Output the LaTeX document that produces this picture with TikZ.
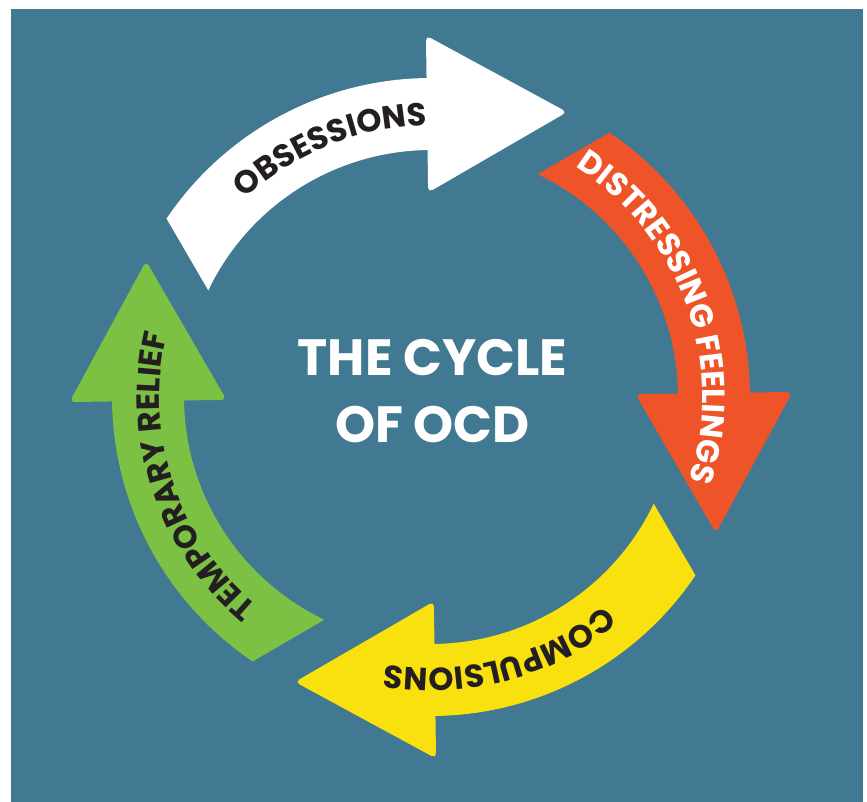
\documentclass[tikz,border=0pt]{standalone}
\usepackage{fontspec}
\setmainfont{Poppins}
\usetikzlibrary{decorations.text}

\definecolor{ocdblue}{HTML}{417993}
\definecolor{ocdred}{HTML}{EF5328}
\definecolor{ocdyellow}{HTML}{F9E00F}
\definecolor{ocdgreen}{HTML}{7CC143}
\definecolor{ocdink}{HTML}{231F20}

\newcommand{\arcfont}{\bfseries\fontsize{32}{32}\selectfont}
\newcommand{\titlefont}{\bfseries\fontsize{51}{67}\selectfont}

\tikzset{
  tipshape/.style={rounded corners=5pt},
  curved label/.style 2 args={decorate,
    decoration={text along path, text={|\arcfont|#2}, text align=center, text color=#1}}
}

\begin{document}
\begin{tikzpicture}[x=1pt, y=1pt]
      \useasboundingbox (-431,-405) rectangle (436,397);
      \fill [ocdblue] (-420,-405) rectangle (432,388);
      % top: obsessions
      \begin{scope}[rotate=0.8]
        \fill [white] (88:319) arc [start angle=88, end angle=145.2, radius=319]
          -- (153.6:247) arc [start angle=153.6, end angle=88, radius=247] -- cycle;
        \fill [white, tipshape] (0,204.5) -- (0,361.5) -- (140,283) -- cycle;
        \path [curved label={ocdink}{OBSESSIONS}]
          (161.2:271.5) arc [start angle=161.2, end angle=61.2, radius=271.5];
      \end{scope}
      % right: distressing feelings
      \begin{scope}[rotate=-89.2]
        \fill [ocdred] (88:319) arc [start angle=88, end angle=145.2, radius=319]
          -- (153.6:247) arc [start angle=153.6, end angle=88, radius=247] -- cycle;
        \fill [ocdred, tipshape] (0,204.5) -- (0,361.5) -- (140,283) -- cycle;
        \path [curved label={white}{DISTRESSING FEELINGS}]
          (169.2:271.5) arc [start angle=169.2, end angle=49.2, radius=271.5];
      \end{scope}
      % bottom: compulsions
      \begin{scope}[rotate=-179.2]
        \fill [ocdyellow] (88:319) arc [start angle=88, end angle=145.2, radius=319]
          -- (153.6:247) arc [start angle=153.6, end angle=88, radius=247] -- cycle;
        \fill [ocdyellow, tipshape] (0,204.5) -- (0,361.5) -- (140,283) -- cycle;
        \path [curved label={ocdink}{COMPULSIONS}]
          (154.2:271.5) arc [start angle=154.2, end angle=54.2, radius=271.5];
      \end{scope}
      % left: temporary relief
      \begin{scope}[rotate=90.8]
        \fill [ocdgreen] (88:319) arc [start angle=88, end angle=145.2, radius=319]
          -- (153.6:247) arc [start angle=153.6, end angle=88, radius=247] -- cycle;
        \fill [ocdgreen, tipshape] (0,204.5) -- (0,361.5) -- (140,283) -- cycle;
        \path [curved label={ocdink}{TEMPORARY RELIEF}]
          (157.7:271.5) arc [start angle=157.7, end angle=57.7, radius=271.5];
      \end{scope}
      \node (title) [white, font=\titlefont, align=center, inner sep=0pt] at (1.5,6)
        {THE CYCLE\\OF OCD};
    \end{tikzpicture}
\end{document}
